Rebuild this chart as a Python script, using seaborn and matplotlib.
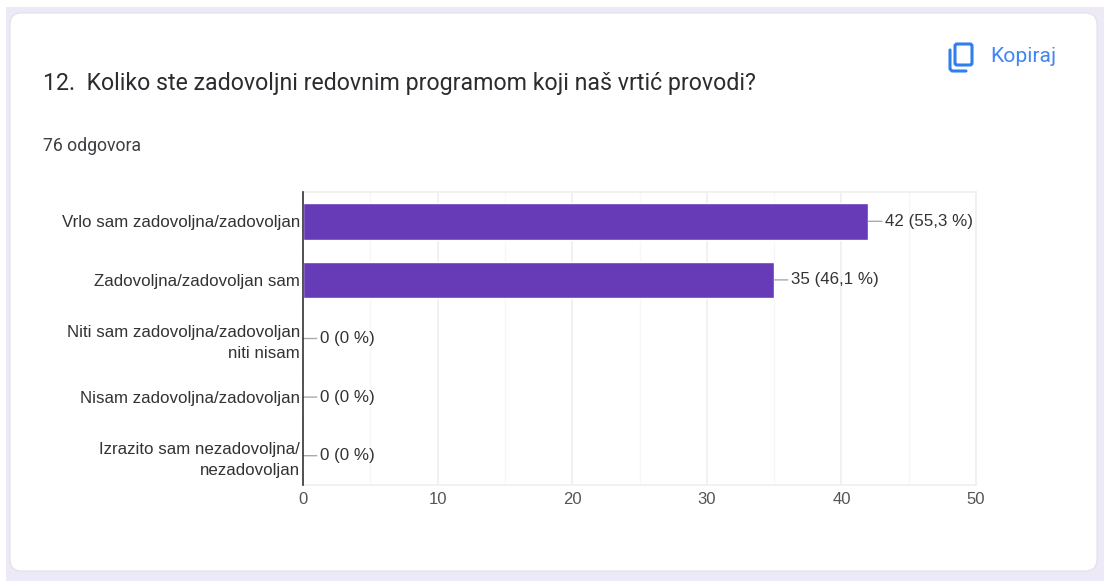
import matplotlib
matplotlib.use('Agg')
import matplotlib.pyplot as plt
from matplotlib.patches import FancyBboxPatch, Rectangle
import seaborn as sns
import pandas as pd

W, H = 1104, 581

categories = [
    'Vrlo sam zadovoljna/zadovoljan',
    'Zadovoljna/zadovoljan sam',
    'Niti sam zadovoljna/zadovoljan\nniti nisam',
    'Nisam zadovoljna/zadovoljan',
    'Izrazito sam nezadovoljna/\nnezadovoljan',
]
counts = [42, 35, 0, 0, 0]
value_labels = ['42 (55,3 %)', '35 (46,1 %)', '0 (0 %)', '0 (0 %)', '0 (0 %)']
x_ticks = [0, 10, 20, 30, 40, 50]

title = '12.  Koliko ste zadovoljni redovnim programom koji naš vrtić provodi?'
subtitle = '76 odgovora'
copy_label = 'Kopiraj'

sns.set_theme(style='white')
plt.rcParams['font.family'] = ['Liberation Sans', 'DejaVu Sans']

fig = plt.figure(figsize=(W / 100, H / 100), dpi=100, facecolor='white')

# page background + card, drawn in pixel coordinates
bg = fig.add_axes([0, 0, 1, 1])
bg.set_xlim(0, W)
bg.set_ylim(H, 0)
bg.axis('off')
bg.add_patch(Rectangle((6, 7), W - 6, H - 7, fc='#ede9f7', ec='none'))
bg.add_patch(FancyBboxPatch((10 + 12, 13 + 12), 1097 - 10 - 24, 571 - 13 - 24,
                            boxstyle='round,pad=12,rounding_size=12',
                            fc='white', ec='#e2e1e8', lw=0.8))

bg.text(43, 83.5, title, fontsize=16.7, color='#2b2c2f', va='center',
        family=['Roboto', 'DejaVu Sans'])
bg.text(43, 146, subtitle, fontsize=12.7, color='#3c4043', va='center',
        family=['Roboto', 'DejaVu Sans'])
bg.text(990, 56, copy_label, fontsize=15.2, color='#4285f4', va='center',
        family=['Roboto', 'DejaVu Sans'])

# copy icon
bg.add_patch(FancyBboxPatch((955, 44), 17, 21, boxstyle='round,pad=0,rounding_size=2',
                            fc='none', ec='#2f7fed', lw=2.2))
bg.plot([950, 950, 952, 966], [50, 69, 71, 71], color='#2f7fed', lw=2.2,
        solid_capstyle='round', solid_joinstyle='round')

# chart
ax = fig.add_axes([303 / W, 1 - 485 / H, (976 - 303) / W, (485 - 192) / H])
ax.patch.set_alpha(0)
df = pd.DataFrame({'category': categories, 'count': counts})
sns.barplot(data=df, x='count', y='category', orient='y', color='#673ab7',
            saturation=1, width=0.625, ax=ax, zorder=3)
ax.set_xlim(0, 50)
ax.set_xticks(x_ticks)
ax.set_xticks([5, 15, 25, 35, 45], minor=True)
ax.set_xlabel('')
ax.set_ylabel('')
ax.grid(axis='x', which='major', color='#eeeeee', lw=1.1, zorder=0)
ax.grid(axis='x', which='minor', color='#f7f7f7', lw=1, zorder=0)
ax.set_axisbelow(True)
ax.tick_params(axis='both', which='both', length=0)
ax.tick_params(axis='x', labelsize=12, labelcolor='#555555', pad=5)
ax.tick_params(axis='y', labelsize=12.2, labelcolor='#333333', pad=2.2)
for lab in ax.get_yticklabels():
    lab.set_multialignment('right')
    lab.set_linespacing(1.5)
for side in ['top', 'right', 'bottom']:
    ax.spines[side].set_color('#f0f0f0')
ax.spines['left'].set_color('#333333')
ax.spines['left'].set_linewidth(1.2)
ax.spines['left'].set_zorder(5)

for i, (v, s) in enumerate(zip(counts, value_labels)):
    ax.annotate(s, xy=(v, i), xytext=(17, 0), textcoords='offset pixels',
                ha='left', va='center', fontsize=12.2, color='#333333',
                annotation_clip=False,
                arrowprops=dict(arrowstyle='-', color='#aaaaaa', lw=1,
                                shrinkA=0, shrinkB=0, relpos=(0, 0.5)))

fig.savefig('out.png', dpi=100)
